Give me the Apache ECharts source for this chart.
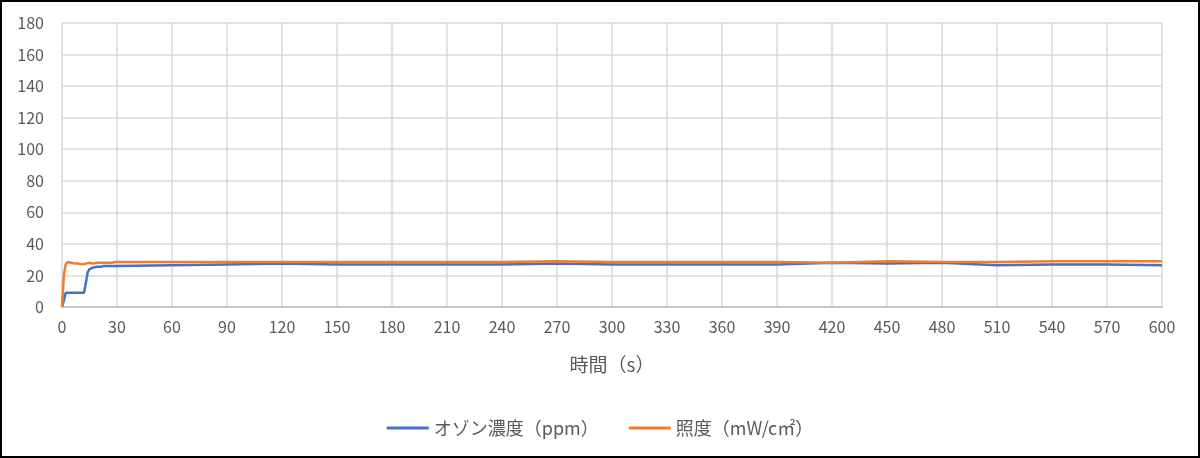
<!DOCTYPE html>
<html>
<head>
<meta charset="utf-8">
<script src="https://cdn.jsdelivr.net/npm/echarts@6/dist/echarts.min.js"></script>
<style>
html,body{margin:0;padding:0;background:#fff;}
#wrap{width:1200px;height:458px;box-sizing:border-box;border:2px solid #000;position:relative;}
#chart{position:absolute;left:-2px;top:-2px;width:1200px;height:458px;}
</style>
</head>
<body>
<div id="wrap"><div id="chart"></div></div>
<script>
const times = [0,1,2,3,4,5,6,7,8,9,10,11,12,13,14,15,16,17,18,19,20,21,22,23,24,25,26,27,28,29,30,60,90,120,150,180,210,240,270,300,330,360,390,420,450,480,510,540,570,600];
const ozone = [0,4,9,9,9,9,9,9,9,9,9,9,9,15,22,24,25,25,25.5,25.5,26,25.5,26,26,26.5,26,25.5,26,26,26,26,26.5,27,27.5,27,27,27,27,27.5,27,27,27,27,28,27.5,28,26.5,27,27,26.5];
const illum = [0,20,27,28.5,28,28,28,27.5,28,27.5,27.5,27,27,27.5,27.5,28,28,27.5,28,28,27.5,28,28.5,28,28.5,28,28.5,28,28.5,28.5,28.5,28.5,28.5,28.5,28.5,28.5,28.5,28.5,29,28.5,28.5,28.5,28.5,28,29,28.5,28.5,29,29,29];
const seriesNames = ['オゾン濃度（ppm）','照度（mW/c㎡）'];
const xTicks = {min:0,max:600,interval:30};
const yTicks = {min:0,max:180,interval:20};

const chart = echarts.init(document.getElementById('chart'));
const font = '"Noto Sans CJK JP","Noto Sans",sans-serif';
chart.setOption({
  animation:false,
  textStyle:{fontFamily:font},
  grid:{left:62,right:38,top:23,bottom:151,containLabel:false},
  legend:{
    top:414,left:'center',itemWidth:42,itemHeight:3,itemGap:30,
    icon:'rect',
    textStyle:{color:'#595959',fontSize:18,fontFamily:font},
    data:seriesNames
  },
  xAxis:{
    type:'value',min:xTicks.min,max:xTicks.max,interval:xTicks.interval,
    name:'時間（s）',nameLocation:'middle',nameGap:48,
    nameTextStyle:{color:'#595959',fontSize:19,fontFamily:font},
    axisLine:{lineStyle:{color:'#bfbfbf',width:1.5}},
    axisTick:{show:false},
    axisLabel:{color:'#595959',fontSize:16,margin:12,fontFamily:font},
    splitLine:{show:true,lineStyle:{color:'#d9d9d9',width:1.5}}
  },
  yAxis:{
    type:'value',min:yTicks.min,max:yTicks.max,interval:yTicks.interval,
    axisLine:{show:false},axisTick:{show:false},
    axisLabel:{color:'#595959',fontSize:16,margin:18,fontFamily:font},
    splitLine:{show:true,lineStyle:{color:'#d9d9d9',width:1.5}}
  },
  series:[
    {name:seriesNames[0],type:'line',showSymbol:false,symbol:'none',
     lineStyle:{color:'#4472c4',width:2.5},itemStyle:{color:'#4472c4'},
     data:times.map((t,i)=>[t,ozone[i]])},
    {name:seriesNames[1],type:'line',showSymbol:false,symbol:'none',
     lineStyle:{color:'#ed7d31',width:2.5},itemStyle:{color:'#ed7d31'},
     data:times.map((t,i)=>[t,illum[i]])}
  ]
});
</script>
</body>
</html>
